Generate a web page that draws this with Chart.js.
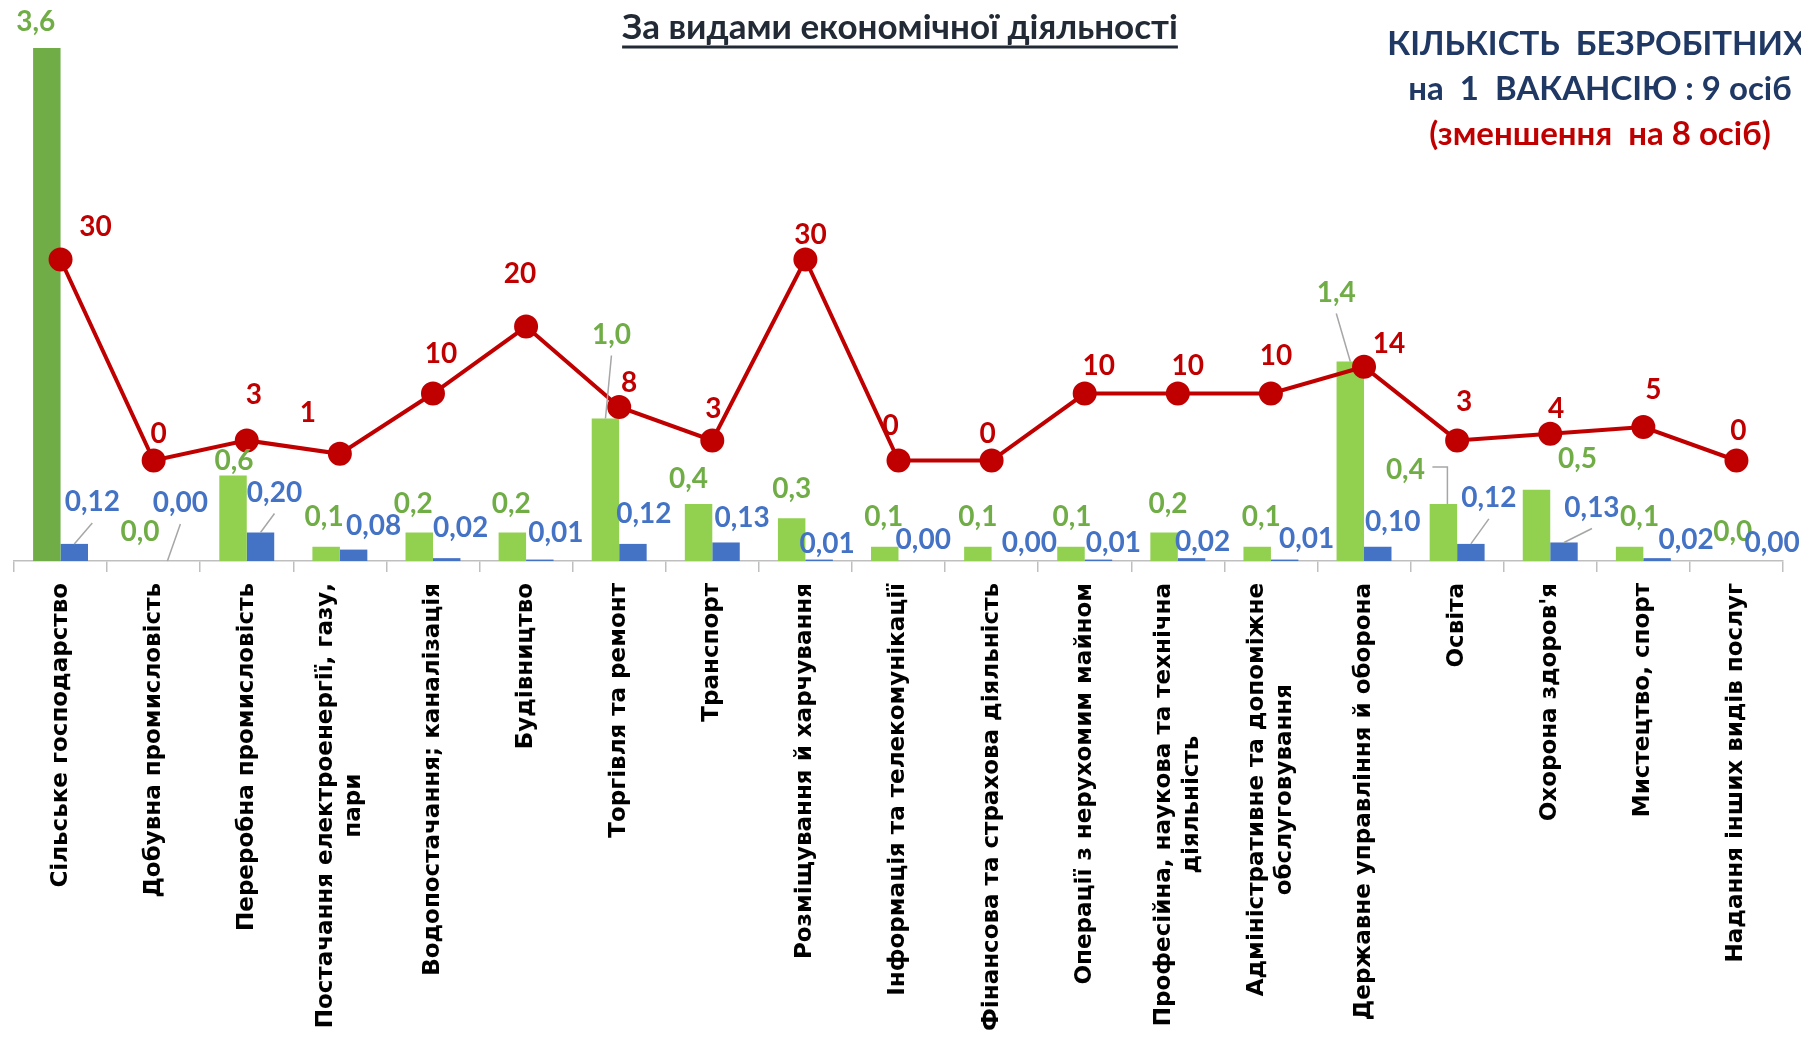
<!DOCTYPE html>
<html lang="uk">
<head>
<meta charset="utf-8">
<title>За видами економічної діяльності</title>
<script src="https://cdn.jsdelivr.net/npm/chart.js@4.4.1/dist/chart.umd.min.js"></script>
<style>
  html, body { margin: 0; padding: 0; background: #fff; }
  #wrap { position: relative; width: 1801px; height: 1040px; }
</style>
</head>
<body>
<div id="wrap"><canvas id="chart"></canvas></div>
<script>
// Categories (wrapped lines as in the original)
const categories = [
    ["Сільське господарство"],
    ["Добувна промисловість"],
    ["Переробна промисловість"],
    ["Постачання електроенергії, газу,", "пари"],
    ["Водопостачання; каналізація"],
    ["Будівництво"],
    ["Торгівля та ремонт"],
    ["Транспорт"],
    ["Розміщування й харчування"],
    ["Інформація та телекомунікації"],
    ["Фінансова та страхова діяльність"],
    ["Операції з нерухомим майном"],
    ["Професійна, наукова та технічна", "діяльність"],
    ["Адміністративне та допоміжне", "обслуговування"],
    ["Державне управління й оборона"],
    ["Освіта"],
    ["Охорона здоров'я"],
    ["Мистецтво, спорт"],
    ["Надання інших видів послуг"]
];

// Series values
const unemployed = [3.6, 0.0, 0.6, 0.1, 0.2, 0.2, 1.0, 0.4, 0.3, 0.1, 0.1, 0.1, 0.2, 0.1, 1.4, 0.4, 0.5, 0.1, 0.0];
const vacancies  = [0.12, 0.00, 0.20, 0.08, 0.02, 0.01, 0.12, 0.13, 0.01, 0.00, 0.00, 0.01, 0.02, 0.01, 0.10, 0.12, 0.13, 0.02, 0.00];
const perVacancy = [30, 0, 3, 1, 10, 20, 8, 3, 30, 0, 0, 10, 10, 10, 14, 3, 4, 5, 0];

// Label nudges (px, relative to bar top / point) – layout only
const greenOffsets = [[-11,-26],[0,-29],[1,-15],[-2,-30],[-6,-29],[-1,-29],[6,-84],[-10,-25],[0,-29],[-1,-30],
                      [0,-30],[1,-30],[4,-29],[4,-30],[-14,-69],[-38,-34],[41,-31],[10,-30],[10,-29]];
const blueOffsets  = [[18,-42],[13,-58],[14,-40],[20,-24],[14,-30],[16,-27],[11,-30],[16,-25],[8,-16],[11,-21],
                      [24,-18],[15,-17],[11,-16],[22,-21],[15,-25],[18,-46],[28,-35],[29,-18],[22,-18]];
const redOffsets   = [[35,-33],[5,-27],[7,-45],[-32,-41],[8,-40],[-6,-53],[10,-24],[1,-31],[5,-25],[-8,-35],
                      [-4,-27],[14,-28],[10,-28],[5,-38],[25,-23],[7,-38],[6,-25],[10,-37],[2,-30]];
const greenLeaders = { 6: "line", 14: "line", 15: "elbow" };
const blueLeaders  = { 0: "line", 1: "line", 2: "line", 15: "line", 16: "line" };

const GREEN_DARK = "#70AD47";
const GREEN = "#92D050";
const BLUE = "#4472C4";
const RED = "#C00000";
const NAVY = "#1F3864";
const valueFont = "bold 28px Lato, 'Open Sans', sans-serif";

function fmt(v, d) {
    return v.toFixed(d).replace(".", ",");
}

function drawBarLabels(ctx, meta, values, decimals, color, offsets, leaders) {
    meta.data.forEach((bar, i) => {
        const lx = bar.x + offsets[i][0];
        const ly = bar.y + offsets[i][1];
        const kind = leaders[i];
        if (kind) {
            ctx.strokeStyle = "#A6A6A6";
            ctx.lineWidth = 1.5;
            ctx.beginPath();
            if (kind === "elbow") {
                ctx.moveTo(lx + 27, ly - 3);
                ctx.lineTo(bar.x + 4, ly - 3);
                ctx.lineTo(bar.x + 4, bar.y);
            } else {
                ctx.moveTo(lx, ly + 21);
                ctx.lineTo(bar.x, bar.y);
            }
            ctx.stroke();
        }
        ctx.fillStyle = color;
        ctx.fillText(fmt(values[i], decimals), lx, ly);
    });
}

const overlay = {
    id: "overlay",
    afterDatasetsDraw(chart) {
        const ctx = chart.ctx;
        const xs = chart.scales.x;
        ctx.save();

        // category labels, rotated, text end near the axis
        ctx.font = "bold 23px 'DejaVu Sans', sans-serif";
        ctx.fillStyle = "#000";
        ctx.textAlign = "center";
        ctx.textBaseline = "middle";
        const labelTop = chart.chartArea.bottom + 22;
        categories.forEach((lines, i) => {
            const x = xs.getPixelForValue(i);
            const w = Math.max(...lines.map(l => ctx.measureText(l).width));
            ctx.save();
            ctx.translate(x, labelTop);
            ctx.rotate(-Math.PI / 2);
            lines.forEach((l, k) => ctx.fillText(l, -w / 2, (k - (lines.length - 1) / 2) * 28));
            ctx.restore();
        });

        // value labels
        ctx.font = valueFont;
        drawBarLabels(ctx, chart.getDatasetMeta(1), unemployed, 1, GREEN_DARK, greenOffsets, greenLeaders);
        drawBarLabels(ctx, chart.getDatasetMeta(2), vacancies, 2, BLUE, blueOffsets, blueLeaders);

        ctx.font = "bold 28px Lato, 'Open Sans', sans-serif";
        ctx.fillStyle = RED;
        chart.getDatasetMeta(0).data.forEach((pt, i) => {
            ctx.fillText(String(perVacancy[i]), pt.x + redOffsets[i][0], pt.y + redOffsets[i][1]);
        });

        // title, underlined
        ctx.textBaseline = "alphabetic";
        ctx.font = "bold 35px Lato, 'Open Sans', sans-serif";
        ctx.fillStyle = "#222A35";
        const title = "За видами економічної діяльності";
        const tw = ctx.measureText(title).width;
        ctx.fillText(title, 900, 39);
        ctx.strokeStyle = "#222A35";
        ctx.lineWidth = 3;
        ctx.beginPath();
        ctx.moveTo(900 - tw / 2, 47);
        ctx.lineTo(900 + tw / 2, 47);
        ctx.stroke();

        // note block at the top right
        ctx.font = "bold 33px Lato, 'Open Sans', sans-serif";
        ctx.fillStyle = NAVY;
        ctx.fillText("КІЛЬКІСТЬ  БЕЗРОБІТНИХ,", 1600, 55);
        ctx.fillText("на  1  ВАКАНСІЮ : 9 осіб", 1600, 100);
        ctx.fillStyle = RED;
        ctx.fillText("(зменшення  на 8 осіб)", 1600, 145);

        ctx.restore();
    }
};

window.addEventListener("DOMContentLoaded", () => {
    const ctx = document.getElementById("chart").getContext("2d");

    const greenColours = unemployed.map((v, i) => i === 0 ? GREEN_DARK : GREEN);

    new Chart(ctx, {
        type: "bar",
        data: {
            labels: categories.map(c => c.join(" ")),
            datasets: [
                {
                    type: "line",
                    label: "Кількість безробітних на 1 вакансію",
                    data: perVacancy,
                    yAxisID: "y2",
                    borderColor: RED,
                    backgroundColor: RED,
                    borderWidth: 4,
                    pointRadius: 10,
                    pointBackgroundColor: RED,
                    pointBorderColor: RED,
                    tension: 0,
                    order: 0
                },
                {
                    label: "Безробітні",
                    data: unemployed,
                    yAxisID: "y",
                    backgroundColor: greenColours,
                    categoryPercentage: 0.59,
                    barPercentage: 1.0,
                    order: 1
                },
                {
                    label: "Вакансії",
                    data: vacancies,
                    yAxisID: "y",
                    backgroundColor: BLUE,
                    categoryPercentage: 0.59,
                    barPercentage: 1.0,
                    order: 2
                }
            ]
        },
        options: {
            responsive: true,
            maintainAspectRatio: false,
            animation: false,
            layout: {
                padding: { left: 13, right: 18, top: 48, bottom: 468 }
            },
            plugins: {
                legend: { display: false },
                tooltip: { enabled: false },
                title: { display: false }
            },
            scales: {
                x: {
                    ticks: { display: false },
                    grid: {
                        display: true,
                        drawOnChartArea: false,
                        drawTicks: true,
                        tickLength: 11,
                        color: "#BFBFBF",
                        lineWidth: 1.5,
                        offset: true
                    },
                    border: { display: true, color: "#BFBFBF", width: 1.5 }
                },
                y: {
                    display: false,
                    min: 0,
                    max: 3.6
                },
                y2: {
                    display: false,
                    position: "right",
                    min: -15,
                    max: 61.57
                }
            }
        },
        plugins: [overlay]
    });
});
</script>
</body>
</html>
